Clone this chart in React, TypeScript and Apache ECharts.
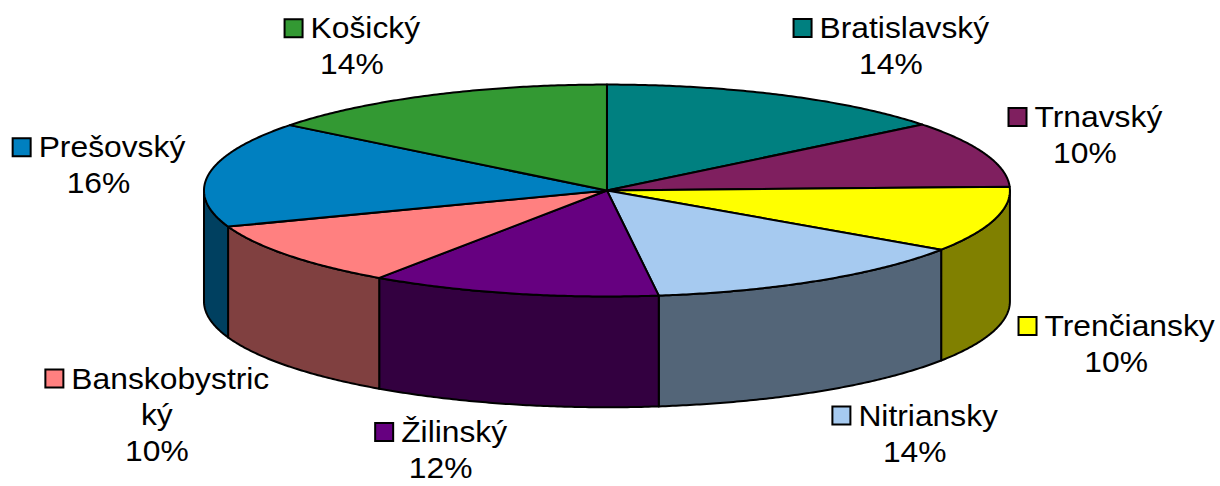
import React, { useEffect, useRef } from "react";
import * as echarts from "echarts";

// ---- data ----
const regions = [
  "Bratislavský",
  "Trnavský",
  "Trenčiansky",
  "Nitriansky",
  "Žilinský",
  "Banskobystrický",
  "Prešovský",
  "Košický",
];
const shares = [14.3, 10.1, 10.0, 13.5, 11.6, 9.9, 16.1, 14.4];
const topColors = [
  "#008080",
  "#7f1f5f",
  "#ffff00",
  "#a6caf0",
  "#660080",
  "#ff8080",
  "#0080c0",
  "#339933",
];

// ---- layout / style ----
const FONT_SIZE = 30;
const FONT = `${FONT_SIZE}px "Liberation Sans", Arial, sans-serif`;
const STRETCH = 1.06;
const LINE_H = 36;
const KEY = 20;
const KEY_GAP = 7;
const MAX_LINE_W = 235;
const EDGE_PAD = 18;

function darken(hex: string, k: number) {
  const n = parseInt(hex.slice(1), 16);
  const r = Math.round(((n >> 16) & 255) * k);
  const g = Math.round(((n >> 8) & 255) * k);
  const b = Math.round((n & 255) * k);
  return `rgb(${r},${g},${b})`;
}

let measureCtx: CanvasRenderingContext2D | null = null;
function textW(s: string) {
  if (!measureCtx) {
    measureCtx = document.createElement("canvas").getContext("2d");
  }
  measureCtx!.font = FONT;
  return measureCtx!.measureText(s).width * STRETCH;
}

function wrapName(name: string): string[] {
  const lines: string[] = [];
  let cur = "";
  let first = true;
  for (const ch of Array.from(name)) {
    const limit = first ? MAX_LINE_W - KEY - KEY_GAP : MAX_LINE_W;
    if (cur && textW(cur + ch) > limit) {
      lines.push(cur);
      cur = ch;
      first = false;
    } else cur += ch;
  }
  if (cur) lines.push(cur);
  return lines;
}

export default function App() {
  const ref = useRef<HTMLDivElement>(null);
  useEffect(() => {
    document.body.style.margin = "0";
    const chart = echarts.init(ref.current!, null, { renderer: "svg" });
    const total = shares.reduce((a, b) => a + b, 0);
    let acc = 0;
    const data = shares.map((v, i) => {
      const s = acc / total;
      acc += v;
      return { name: regions[i], value: [i, s, acc / total, v] };
    });

    const renderItem = (params: any, api: any) => {
      const W = api.getWidth();
      const H = api.getHeight();
      const cx = W * 0.4975;
      const cy = H * 0.392;
      const rx = W * 0.3303;
      const ry = H * 0.218;
      const depth = H * 0.228;
      const LX = W * 0.35;
      const LY_BACK = H * 0.33;
      const LY_FRONT = H * 0.32;

      const i = api.value(0);
      const a0 = api.value(1) * Math.PI * 2;
      const a1 = api.value(2) * Math.PI * 2;
      const v = api.value(3);
      const color = topColors[i];

      const arc = (a: number, b: number, dy: number) => {
        const pts: number[][] = [];
        const n = Math.max(2, Math.ceil((b - a) / (Math.PI / 360)));
        for (let k = 0; k <= n; k++) {
          const t = a + ((b - a) * k) / n;
          pts.push([cx + rx * Math.sin(t), cy - ry * Math.cos(t) + dy]);
        }
        return pts;
      };

      const children: any[] = [];
      const s0 = Math.max(a0, Math.PI / 2);
      const s1 = Math.min(a1, (Math.PI * 3) / 2);
      if (s1 > s0) {
        const pts = arc(s0, s1, 0).concat(arc(s0, s1, depth).reverse());
        children.push({
          type: "polygon",
          shape: { points: pts },
          style: { fill: darken(color, 0.5), stroke: "#000", lineWidth: 2, lineJoin: "round" },
        });
      }
      children.push({
        type: "polygon",
        shape: { points: [[cx, cy]].concat(arc(a0, a1, 0)) },
        style: { fill: color, stroke: "#000", lineWidth: 2, lineJoin: "round" },
      });

      // label
      const mid = (a0 + a1) / 2;
      const sn = Math.sin(mid);
      const cs = Math.cos(mid);
      const ax = cx + LX * sn;
      const ay = cs < 0 ? cy - LY_FRONT * cs + depth : cy - LY_BACK * cs;
      const nameLines = wrapName(regions[i]);
      const pct = Math.round((v / total) * 100) + "%";
      const lines = nameLines.concat([pct]);
      const widths = lines.map((l, k) => textW(l) + (k === 0 ? KEY + KEY_GAP : 0));
      const blockW = Math.max(...widths);
      const left = sn >= 0 ? ax : ax - blockW;
      const bcx = left + blockW / 2;
      // keep the label block inside the chart
      const top = Math.min(ay - LINE_H, H - EDGE_PAD - (lines.length - 0.5) * LINE_H);
      lines.forEach((l, k) => {
        const ym = top + LINE_H * (k + 0.5);
        const start = bcx - widths[k] / 2;
        if (k === 0) {
          children.push({
            type: "rect",
            shape: { x: start + 1, y: ym - KEY / 2 + 1, width: KEY - 2, height: KEY - 2 },
            style: { fill: color, stroke: "#000", lineWidth: 2 },
          });
          children.push({
            type: "text",
            x: start + KEY + KEY_GAP,
            y: ym,
            scaleX: STRETCH,
            style: { text: l, font: FONT, fill: "#000", textAlign: "left", textVerticalAlign: "middle" },
          });
        } else {
          children.push({
            type: "text",
            x: bcx,
            y: ym,
            scaleX: STRETCH,
            style: { text: l, font: FONT, fill: "#000", textAlign: "center", textVerticalAlign: "middle" },
          });
        }
      });
      return { type: "group", children };
    };

    chart.setOption({
      animation: false,
      backgroundColor: "#fff",
      series: [
        {
          type: "custom",
          coordinateSystem: "none",
          renderItem,
          data,
          silent: true,
        },
      ],
    });
    const onResize = () => chart.resize();
    window.addEventListener("resize", onResize);
    return () => {
      window.removeEventListener("resize", onResize);
      chart.dispose();
    };
  }, []);
  return (
    <div
      ref={ref}
      style={{ position: "fixed", left: 0, top: 0, width: "1220px", height: "486px" }}
    />
  );
}
